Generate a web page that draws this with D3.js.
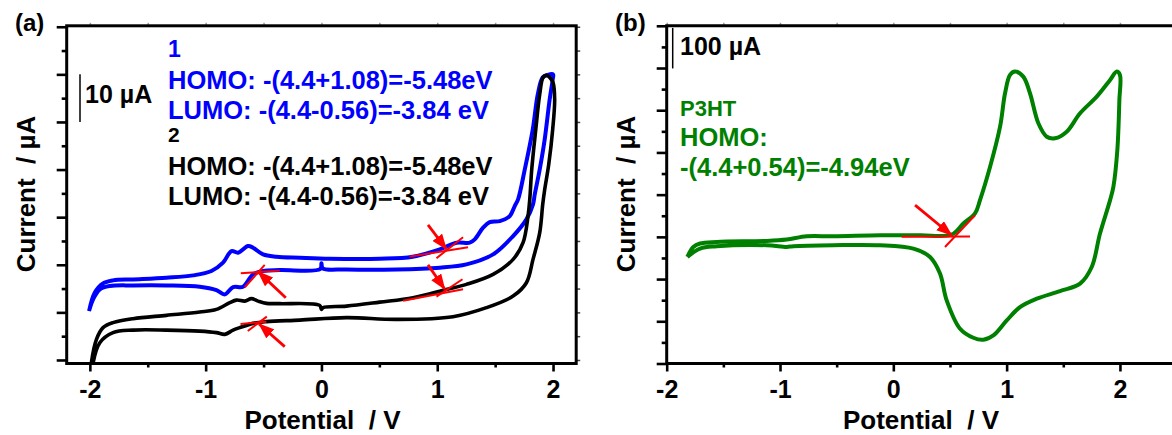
<!DOCTYPE html>
<html>
<head>
<meta charset="utf-8">
<script src="https://cdn.jsdelivr.net/npm/d3@7"></script>
<style>
body { margin: 0; background: #fff; }
text { font-family: "Liberation Sans", Arial, sans-serif; font-weight: bold; }
</style>
</head>
<body>
<svg id="chart" width="1172" height="435"></svg>
<script>
// cyclic voltammograms, [potential (V), current (uA)]
var comp1Loop = [[-2.007,10.27],[-1.958,14.14],[-1.886,16.09],[-1.80,16.72],[-1.627,16.93],[-1.339,17.29],[-1.109,17.77],
  [-0.95,18.68],[-0.85,20.44],[-0.777,22.88],[-0.72,22.54],[-0.634,23.93],[-0.591,23.59],[-0.504,22.18],[-0.389,21.7],
  [-0.187,21.49],[0.072,21.28],[0.503,21.28],[0.788,21.7],[1.022,23.24],[1.166,24.64],[1.281,24.64],[1.324,25.34],
  [1.396,27.79],[1.453,28.97],[1.54,29.18],[1.626,30.23],[1.669,32.33],[1.698,33.74],[1.756,40.04],[1.825,48.45],
  [1.868,55.8],[1.911,59.37],[1.954,59.9],[2.0,60.0],[1.997,58.95],[1.971,54.75],[1.928,46.34],[1.885,40.04],
  [1.842,34.79],[1.827,32.69],[1.77,29.54],[1.655,26.03],[1.482,22.18],[1.252,20.08],[1.022,19.39],[0.648,19.03],
  [0.216,19.03],[0.011,19.24],[0.0,20.3],[-0.01,19.1],[-0.36,18.89],[-0.504,18.68],[-0.591,17.98],[-0.677,15.4],
  [-0.763,15.32],[-0.835,13.78],[-0.907,14.68],[-1.051,15.4],[-1.339,15.67],[-1.627,15.67],[-1.828,15.53],
  [-1.914,14.83],[-1.972,12.73],[-2.007,10.27]];

var comp2Loop = [[-2.0,-6],[-1.986,-0.5],[-1.943,4.33],[-1.886,6.79],[-1.80,7.84],[-1.627,8.68],[-1.339,9.37],
  [-1.051,10.06],[-0.907,10.63],[-0.792,12.04],[-0.734,12.58],[-0.662,12.37],[-0.605,12.88],[-0.548,12.37],
  [-0.475,11.89],[-0.36,11.83],[-0.015,11.47],[0.0,10.63],[0.014,10.99],[0.216,11.32],[0.503,12.16],[0.791,13.09],
  [1.079,14.83],[1.252,15.88],[1.482,17.98],[1.655,21.13],[1.741,24.64],[1.784,30.23],[1.799,33.74],[1.816,40.04],
  [1.851,48.45],[1.885,55.8],[1.914,59.37],[1.943,59.79],[1.971,59.37],[2.0,58.25],[2.014,54.75],[1.997,48.45],
  [1.963,41.1],[1.928,35.8],[1.911,32.7],[1.885,26.74],[1.827,21.13],[1.77,16.23],[1.655,13.42],[1.425,10.99],
  [1.136,9.1],[0.648,8.53],[0.216,8.89],[-0.187,8.38],[-0.475,8.05],[-0.591,7.69],[-0.706,6.79],[-0.763,6.28],
  [-0.835,5.38],[-0.907,5.74],[-1.051,6.07],[-1.339,6.28],[-1.627,6.28],[-1.80,5.74],[-1.914,3.63],[-1.972,-0.57],
  [-1.99,-6]];

var p3htLoop = [[-1.818,-47.6],[-1.765,-24],[-1.706,-15.8],[-1.559,-12],[-1.117,-9.6],[-0.941,-6.4],[-0.764,1.4],
  [-0.53,1.4],[-0.117,3.8],[0.236,3.8],[0.515,5.6],[0.618,31.6],[0.721,55.4],[0.765,87],[0.854,166],[0.942,261],
  [0.986,340.2],[1.03,383.6],[1.074,391.6],[1.147,379.6],[1.206,340.2],[1.28,269],[1.354,237.2],[1.427,233.4],
  [1.53,249],[1.648,292.8],[1.795,332.2],[1.913,371.8],[1.972,391.6],[2.0,383.6],[1.995,324.4],[1.977,205.6],
  [1.942,118.6],[1.913,87],[1.824,7.8],[1.751,-71.4],[1.648,-110.8],[1.471,-128.4],[1.266,-146.4],[1.118,-166.4],
  [1.001,-198],[0.883,-233.6],[0.794,-243.8],[0.706,-239],[0.589,-217.6],[0.471,-150.4],[0.412,-87],[0.324,-47.6],
  [0.177,-27.8],[-0.117,-19.8],[-0.53,-19.8],[-0.883,-22.2],[-0.941,-23.8],[-1.117,-19.8],[-1.559,-22.2],
  [-1.706,-27.8],[-1.818,-47.6]];

// onset tangents [v1, i1, v2, i2] and arrows [tailV, tailI, headV, headI]
var tangentsA = [[-0.697,18.22,-0.36,18.77],[-0.662,15.28,-0.49,19.97],
                 [-0.699,7.57,-0.475,8.05],[-0.636,6.1,-0.472,9.1],
                 [0.762,21.71,1.266,23.68],[0.993,21.37,1.223,25.78],
                 [0.705,12.46,1.223,14.86],[0.993,13.3,1.218,16.96]];
var arrowsA = [[-0.308,13.09,-0.547,18.56],[-0.317,2.8,-0.539,7.57],
               [0.92,28.37,1.079,23.27],[0.92,19.97,1.065,14.86]];
var tangentsB = [[0.074,0.3,0.677,0.8],[0.456,-23.9,0.721,51.3]];
var arrowsB = [[0.192,75.1,0.515,3.9]];

var xMajor = [-2, -1, 0, 1, 2];
var xMinor = [-1.5, -0.5, 0.5, 1.5];
var yMajorA = [0, 10, 20, 30, 40, 50, 60, 70];
var yMinorA = [5, 15, 25, 35, 45, 55, 65];
var yMajorB = [-300, -200, -100, 0, 100, 200, 300, 400, 500];
var yMinorB = [-250, -150, -50, 50, 150, 250, 350, 450];

var legend1 = ["1", "HOMO: -(4.4+1.08)=-5.48eV", "LUMO: -(4.4-0.56)=-3.84 eV"];
var legend2 = ["2", "HOMO: -(4.4+1.08)=-5.48eV", "LUMO: -(4.4-0.56)=-3.84 eV"];
var legendP3HT = ["P3HT", "HOMO:", "-(4.4+0.54)=-4.94eV"];

var BLUE = "#0000ff", GREEN = "#008000", RED = "#ff0000";
var plotTop = 25.8, plotBottom = 363.5;

var svg = d3.select("#chart");

var xA = d3.scaleLinear().domain([-2.2, 2.2]).range([66.7, 576.2]);
var yA = d3.scaleLinear().domain([-0.74, 70.2]).range([plotBottom, plotTop]);
var xB = d3.scaleLinear().domain([-2, 2.5]).range([666.7, 1176.6]);
var yB = d3.scaleLinear().domain([-300, 500]).range([plotBottom, plotTop]);

var defs = svg.append("defs");
defs.append("marker")
    .attr("id", "head")
    .attr("markerUnits", "userSpaceOnUse")
    .attr("viewBox", "0 0 16 12")
    .attr("refX", 15).attr("refY", 6)
    .attr("markerWidth", 16).attr("markerHeight", 12)
    .attr("orient", "auto")
  .append("path")
    .attr("d", "M0,0L16,6L0,12Z")
    .attr("fill", RED);

function clip(id, x, y) {
  defs.append("clipPath").attr("id", id)
    .append("rect")
    .attr("x", x.range()[0]).attr("y", plotTop)
    .attr("width", x.range()[1] - x.range()[0])
    .attr("height", plotBottom - plotTop);
}
clip("clipA", xA, yA);
clip("clipB", xB, yB);

function drawAxes(x, y, yMajor, yMinor) {
  var bx = svg.append("g").attr("transform", "translate(0," + plotBottom + ")");
  bx.call(d3.axisBottom(x).tickValues(xMinor).tickSize(4).tickSizeOuter(0).tickFormat(""));
  var bxM = svg.append("g").attr("transform", "translate(0," + plotBottom + ")");
  bxM.call(d3.axisBottom(x).tickValues(xMajor).tickSize(8).tickSizeOuter(0).tickPadding(9)
      .tickFormat(function(d) { return String(d); }));
  bxM.selectAll("text").style("font-size", "25px").attr("fill", "#000");

  var ly = svg.append("g").attr("transform", "translate(" + x.range()[0] + ",0)");
  ly.call(d3.axisLeft(y).tickValues(yMinor).tickSize(5).tickSizeOuter(0).tickFormat(""));
  var lyM = svg.append("g").attr("transform", "translate(" + x.range()[0] + ",0)");
  lyM.call(d3.axisLeft(y).tickValues(yMajor).tickSize(10).tickSizeOuter(0).tickFormat(""));

  // faint ticks on the top frame
  var tx = svg.append("g").attr("transform", "translate(0," + plotTop + ")");
  tx.call(d3.axisTop(x).tickValues(xMajor.concat(xMinor)).tickSize(3).tickSizeOuter(0).tickFormat(""));
  tx.selectAll("line").attr("stroke", "#999").attr("stroke-width", 1.5);

  [bx, bxM, ly, lyM].forEach(function(g) {
    g.select(".domain").remove();
    g.selectAll("line").attr("stroke", "#000").attr("stroke-width", 2.6);
  });
  tx.select(".domain").remove();
}

drawAxes(xA, yA, yMajorA, yMinorA);
drawAxes(xB, yB, yMajorB, yMinorB);

// right frame ticks of panel a
var ry = svg.append("g").attr("transform", "translate(" + xA.range()[1] + ",0)");
ry.call(d3.axisRight(yA).tickValues(yMajorA.concat(yMinorA)).tickSize(4).tickSizeOuter(0).tickFormat(""));
ry.select(".domain").remove();
ry.selectAll("line").attr("stroke", "#444").attr("stroke-width", 1.5);

// frames
svg.append("rect")
    .attr("x", xA.range()[0]).attr("y", plotTop)
    .attr("width", xA.range()[1] - xA.range()[0])
    .attr("height", plotBottom - plotTop)
    .attr("fill", "none").attr("stroke", "#000").attr("stroke-width", 3);
svg.append("path")
    .attr("d", "M1180," + plotTop + "H" + xB.range()[0] + "V" + plotBottom + "H1180")
    .attr("fill", "none").attr("stroke", "#000").attr("stroke-width", 3);

function drawLoop(data, x, y, clipId, color, width) {
  var line = d3.line()
      .x(function(d) { return x(d[0]); })
      .y(function(d) { return y(d[1]); })
      .curve(d3.curveCatmullRom.alpha(0.5));
  svg.append("path")
      .datum(data)
      .attr("clip-path", "url(#" + clipId + ")")
      .attr("d", line)
      .attr("fill", "none")
      .attr("stroke", color)
      .attr("stroke-width", width)
      .attr("stroke-linejoin", "round");
}

drawLoop(comp1Loop, xA, yA, "clipA", BLUE, 4);
drawLoop(comp2Loop, xA, yA, "clipA", "#000", 3.6);
drawLoop(p3htLoop, xB, yB, "clipB", GREEN, 4);

function drawOnsets(tangents, arrows, x, y) {
  svg.selectAll(null).data(tangents).enter().append("line")
      .attr("x1", function(d) { return x(d[0]); })
      .attr("y1", function(d) { return y(d[1]); })
      .attr("x2", function(d) { return x(d[2]); })
      .attr("y2", function(d) { return y(d[3]); })
      .attr("stroke", RED).attr("stroke-width", 2);
  svg.selectAll(null).data(arrows).enter().append("line")
      .attr("x1", function(d) { return x(d[0]); })
      .attr("y1", function(d) { return y(d[1]); })
      .attr("x2", function(d) { return x(d[2]); })
      .attr("y2", function(d) { return y(d[3]); })
      .attr("stroke", RED).attr("stroke-width", 2.8)
      .attr("marker-end", "url(#head)");
}
drawOnsets(tangentsA, arrowsA, xA, yA);
drawOnsets(tangentsB, arrowsB, xB, yB);

// scale bars
svg.append("line").attr("x1", 80).attr("x2", 80)
    .attr("y1", yA(60)).attr("y2", yA(50))
    .attr("stroke", "#000").attr("stroke-width", 1.5);
svg.append("text").attr("x", 85).attr("y", 103).style("font-size", "25px").text("10 µA");
svg.append("line").attr("x1", 672.7).attr("x2", 672.7)
    .attr("y1", yB(495)).attr("y2", yB(399))
    .attr("stroke", "#000").attr("stroke-width", 1.5);
svg.append("text").attr("x", 680).attr("y", 55).style("font-size", "25px").text("100 µA");

// legends
function legend(lines, x, baselines, sizes, color) {
  lines.forEach(function(t, i) {
    svg.append("text").attr("x", x).attr("y", baselines[i])
        .style("font-size", sizes[i] + "px").attr("fill", color).text(t);
  });
}
legend(legend1, 168, [57, 89, 118.5], [23, 25.5, 25.5], BLUE);
legend(legend2, 168, [141.5, 175, 205], [21, 25.5, 25.5], "#000");
legend(legendP3HT, 680, [116, 146, 176], [22, 25.5, 25.5], GREEN);

// panel letters
svg.append("text").attr("x", 15).attr("y", 31).style("font-size", "24px").text("(a)");
svg.append("text").attr("x", 615).attr("y", 31).style("font-size", "24px").text("(b)");

// axis titles
function xTitle(cx) {
  svg.append("text").attr("x", cx).attr("y", 429)
      .attr("text-anchor", "middle").style("font-size", "26px")
      .style("white-space", "pre").text("Potential  / V");
}
function yTitle(bx) {
  svg.append("text").attr("transform", "translate(" + bx + ",194) rotate(-90)")
      .attr("text-anchor", "middle").style("font-size", "26px")
      .style("white-space", "pre").text("Current  / µA");
}
xTitle(322.5);
xTitle(921);
yTitle(35);
yTitle(635);
</script>
</body>
</html>
